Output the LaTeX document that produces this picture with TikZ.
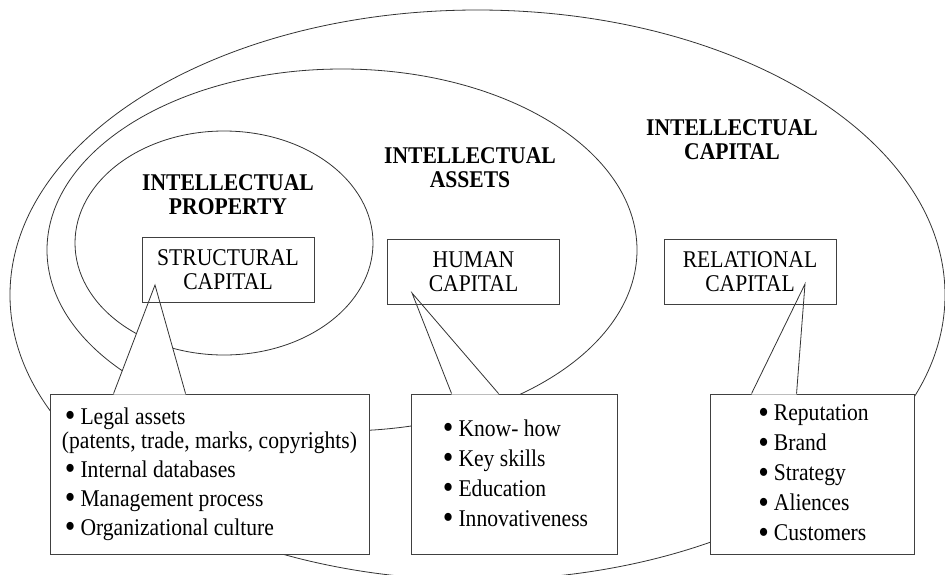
\documentclass[tikz,border=0pt]{standalone}
\usepackage{fontspec}
\setmainfont[FakeStretch=0.9]{Liberation Serif}
\usetikzlibrary{calc, positioning}

\newcommand{\lbul}{\hspace*{3pt}\raisebox{-2.5pt}{\scalebox{1.4}{\textbullet}}\hspace{5pt}}

\tikzset{
  ring/.style={draw=black!80, line width=0.8pt},
  capbox/.style={draw=black!75, line width=0.9pt, minimum width=172pt, minimum height=65pt,
    align=center, font=\fontsize{24}{24}\selectfont},
  listbox/.style={draw=black!75, fill=white, line width=0.9pt, minimum height=160pt,
    align=left, font=\fontsize{24}{24}\selectfont},
  title/.style={align=center, font=\bfseries\fontsize{24}{24}\selectfont},
}

\begin{document}
\begin{tikzpicture}[x=1pt, y=-1pt]
    \useasboundingbox (0,0) rectangle (945,574);

    % Draw the nested ellipses
    \draw[ring] (477.5,295) ellipse [x radius=467.5pt, y radius=285pt];
    \draw[ring] (342,250) ellipse [x radius=295pt, y radius=181pt];
    \draw[ring] (224,243) ellipse [x radius=149pt, y radius=112pt];

    % Ellipse titles
    \node[title] (ipTitle) at (228,195) {INTELLECTUAL\\PROPERTY};
    \node[title] (iaTitle) at (470,168) {INTELLECTUAL\\ASSETS};
    \node[title] (icTitle) at (732,140) {INTELLECTUAL\\CAPITAL};

    % Lower list boxes
    \node[listbox, minimum width=319pt] (legal) at (209.5,474)
        {\lbul Legal assets\\(patents, trade, marks, copyrights)\\[5pt]
         \lbul Internal databases\\[5pt]\lbul Management process\\[5pt]
         \lbul Organizational culture};
    \node[listbox, minimum width=206pt] (skills) at (514,474)
        {\lbul Know- how\\[6pt]\lbul Key skills\\[6pt]\lbul Education\\[6pt]
         \lbul Innovativeness};
    \node[listbox, minimum width=204pt] (brand) at (812,474)
        {\lbul Reputation\\[6pt]\lbul Brand\\[6pt]\lbul Strategy\\[6pt]
         \lbul Aliences\\[6pt]\lbul Customers};

    % Callout tips
    \coordinate (tipS) at (155,285);
    \coordinate (tipH) at (412,293);
    \coordinate (tipR) at (805,284);

    % Draw callout wedges
    \foreach \bx/\tip/\a/\b in {legal/tipS/64/136, skills/tipH/41/88, brand/tipR/42/87} {
        \fill[white] ([xshift=\a pt, yshift=-1pt]\bx.north west) -- (\tip)
            -- ([xshift=\b pt, yshift=-1pt]\bx.north west) -- cycle;
        \draw[ring] ([xshift=\a pt]\bx.north west) -- (\tip) -- ([xshift=\b pt]\bx.north west);
    }

    % Capital boxes
    \node[capbox] (struct) at (228,269.5) {STRUCTURAL\\CAPITAL};
    \node[capbox] (human) at (473.5,272) {HUMAN\\CAPITAL};
    \node[capbox] (relat) at (750,271.5) {RELATIONAL\\CAPITAL};

\end{tikzpicture}
\end{document}
